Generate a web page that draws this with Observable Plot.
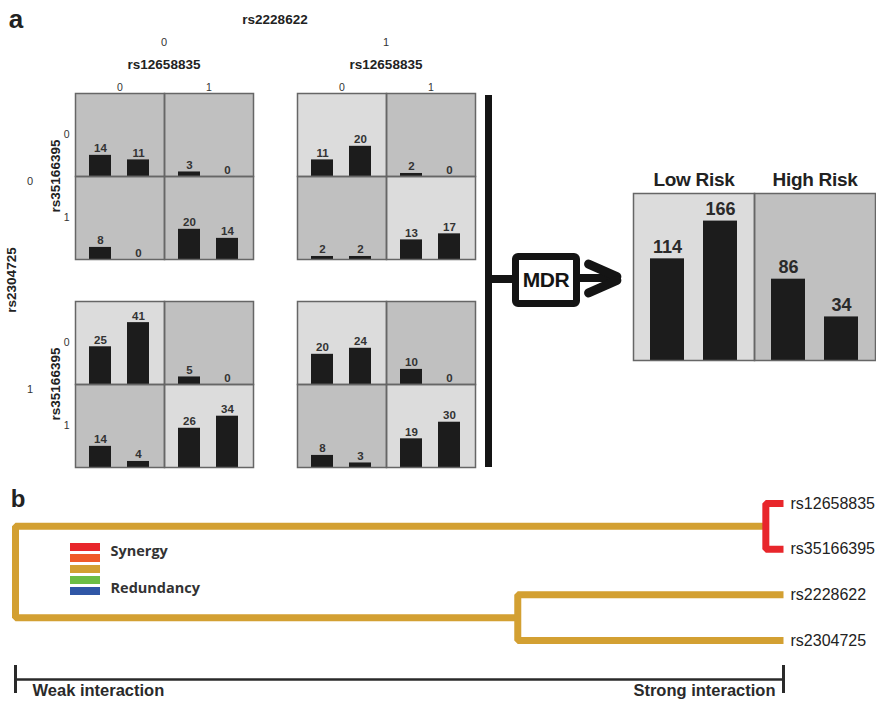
<!DOCTYPE html>
<html>
<head>
<meta charset="utf-8">
<script src="https://cdn.jsdelivr.net/npm/d3@7"></script>
<script src="https://cdn.jsdelivr.net/npm/@observablehq/plot@0.6"></script>
<style>
  body { margin: 0; background: #fff; }
  #fig { position: relative; width: 876px; height: 703px; overflow: hidden; background: #fff;
         font-family: "Liberation Sans", Arial, sans-serif; color: #222; }
  .lbl { position: absolute; transform: translate(-50%, -50%); white-space: nowrap; line-height: 1; }
  .rot { transform: translate(-50%, -50%) rotate(-90deg); }
  .bold { font-weight: bold; }
  .plot { position: absolute; }
  .plot svg { overflow: visible; }
  #summary g[aria-label^="fx-axis"] text { font-weight: bold; font-size: 19px; letter-spacing: -0.3px; fill: #222; }
  .deco { position: absolute; background: #141414; }
</style>
</head>
<body>
<div id="fig"></div>
<script>
// ---------------- data ----------------
const snpOuterCol = "rs2228622";
const snpOuterRow = "rs2304725";
const snpInnerCol = "rs12658835";
const snpInnerRow = "rs35166395";
const alleles = [0, 1];

// one entry per genotype cell (outer col, outer row, inner row, inner col)
const gRs2228622  = [0,0,0,0, 1,1,1,1, 0,0,0,0, 1,1,1,1];
const gRs2304725  = [0,0,0,0, 0,0,0,0, 1,1,1,1, 1,1,1,1];
const gRs35166395 = [0,0,1,1, 0,0,1,1, 0,0,1,1, 0,0,1,1];
const gRs12658835 = [0,1,0,1, 0,1,0,1, 0,1,0,1, 0,1,0,1];
const cases    = [14,3,8,20, 11,2,2,13, 25,5,14,26, 20,10,8,19];
const controls = [11,0,0,14, 20,0,2,17, 41,0,4,34, 24,0,3,30];
const cellRisk = ["High","High","High","High", "Low","High","High","Low",
                  "Low","High","High","Low",  "Low","High","High","Low"];

const riskGroups   = ["Low Risk", "High Risk"];
const riskKeys     = ["Low", "High"];
const riskCases    = [114, 86];
const riskControls = [166, 34];

const leaves = ["rs12658835", "rs35166395", "rs2228622", "rs2304725"];
const mergeLeft     = ["rs12658835", "rs2228622", "n0"];
const mergeRight    = ["rs35166395", "rs2304725", "n1"];
const mergeStrength = [0.977, 0.654, 0];
const mergeLevel    = [0, 2, 2];

const legendLevels = [0, 1, 2, 3, 4];
const legendLabels = ["Synergy", "Redundancy"];
const strengthTicks  = [0, 1];
const strengthLabels = ["Weak interaction", "Strong interaction"];

// ---------------- styles ----------------
const legendColors = ["#e8262b", "#f05a28", "#d3a032", "#6cbd45", "#2f56a6"];
const riskFill = ["#dcdcdc", "#c0c0c0"];
const barFill = "#1c1c1c";
const fontMain = "Liberation Sans, Arial, sans-serif";

const fig = document.getElementById("fig");
function place(node, left, top) {
  const d = document.createElement("div");
  d.className = "plot";
  d.style.left = left + "px"; d.style.top = top + "px";
  d.appendChild(node); fig.appendChild(d);
}
function label(text, x, y, size, cls = "", color = "#222") {
  const d = document.createElement("div");
  d.className = "lbl " + cls;
  d.textContent = text;
  d.style.left = x + "px"; d.style.top = y + "px";
  d.style.fontSize = size + "px"; d.style.color = color;
  fig.appendChild(d);
  return d;
}
function deco(left, top, w, h, extra = {}) {
  const d = document.createElement("div");
  d.className = "deco";
  Object.assign(d.style, {left: left + "px", top: top + "px", width: w + "px", height: h + "px"}, extra);
  fig.appendChild(d);
  return d;
}

// ---------------- panel a: 2x2 grid of 2x2 panels ----------------
const panelW = 178, panelH = 166, mTop = 16, mLeft = 22;
const panelX = [75, 297], panelY = [93, 301];

function drawPanel(oc, orow) {
  const idx = d3.range(cases.length).filter(i => gRs2228622[i] === oc && gRs2304725[i] === orow);
  const cells = idx.map(i => ({c: gRs12658835[i], r: gRs35166395[i], risk: cellRisk[i]}));
  const bars = idx.flatMap(i => [
    {c: gRs12658835[i], r: gRs35166395[i], status: "cases", n: cases[i]},
    {c: gRs12658835[i], r: gRs35166395[i], status: "controls", n: controls[i]}
  ]);
  const chart = Plot.plot({
    width: panelW + mLeft, height: panelH + mTop,
    marginTop: mTop, marginLeft: mLeft, marginRight: 0, marginBottom: 0,
    fx: {domain: alleles, padding: 0, axis: orow === 0 ? "top" : null, tickSize: 0, tickPadding: 3, label: null},
    fy: {domain: alleles, padding: 0, axis: oc === 0 ? "left" : null, tickSize: 0, tickPadding: 6, label: null},
    x: {type: "band", domain: ["cases", "controls"], paddingInner: 0.42, paddingOuter: 0.38, axis: null},
    y: {domain: [0, 55], axis: null},
    color: {domain: riskKeys, range: riskFill},
    style: {fontFamily: fontMain, fontSize: "10.5px", color: "#333", background: "transparent"},
    marks: [
      Plot.rect(cells, {fx: "c", fy: "r", fill: "risk"}),
      Plot.barY(bars, {fx: "c", fy: "r", x: "status", y: "n", fill: barFill}),
      Plot.text(bars, {fx: "c", fy: "r", x: "status", y: "n", text: d => String(d.n),
        dy: -3, lineAnchor: "bottom", fontWeight: "bold", fontSize: 11.5, fill: "#333"}),
      Plot.frame({stroke: "#666", strokeWidth: 1.5})
    ]
  });
  place(chart, panelX[oc] - mLeft, panelY[orow] - mTop);
}
alleles.forEach(oc => alleles.forEach(orow => drawPanel(oc, orow)));

// outer labels
label("a", 16, 19, 26, "bold");
label(snpOuterCol, (panelX[0] + panelX[1] + panelW) / 2, 20, 13.5, "bold");
alleles.forEach((a, i) => {
  label(String(a), panelX[i] + panelW / 2, 42, 11, "", "#333");
  label(snpInnerCol, panelX[i] + panelW / 2, 65, 13.5, "bold");
  label(String(a), 30, panelY[i] + panelH / 2 + 5, 11, "", "#333");
  label(snpInnerRow, 56, panelY[i] + panelH / 2, 13.5, "bold rot");
});
label(snpOuterRow, 12, (panelY[0] + panelY[1] + panelH) / 2, 13.5, "bold rot");

// MDR connector decorations
deco(485, 95, 7, 372);
deco(492, 275, 22, 8);
const box = deco(512, 253, 54, 40, {background: "#fff", border: "7px solid #141414", borderRadius: "6px",
  display: "flex", alignItems: "center", justifyContent: "center", fontWeight: "bold", fontSize: "21px",
  fontFamily: fontMain, color: "#141414", letterSpacing: "-0.5px"});
box.textContent = "MDR";
deco(578, 274, 38, 8);
deco(581, 273.5, 40, 9, {borderRadius: "4.5px", transformOrigin: "right center", transform: "rotate(24deg)"});
deco(581, 273.5, 40, 9, {borderRadius: "4.5px", transformOrigin: "right center", transform: "rotate(-24deg)"});

// summary panel
const summaryBaseline = -26;
const groups = riskGroups.map((g, i) => ({g, risk: riskKeys[i]}));
const sBars = riskGroups.flatMap((g, i) => [
  {g, status: "cases", n: riskCases[i]},
  {g, status: "controls", n: riskControls[i]}
]);
const summary = Plot.plot({
  width: 244, height: 194, marginTop: 26, marginLeft: 1, marginRight: 1, marginBottom: 1,
  fx: {domain: riskGroups, padding: 0, axis: "top", tickSize: 0, tickPadding: 8, label: null},
  x: {type: "band", domain: ["cases", "controls"], paddingInner: 0.355, paddingOuter: 0.31, axis: null},
  y: {domain: [summaryBaseline, 204], axis: null},
  color: {domain: riskKeys, range: riskFill},
  style: {fontFamily: fontMain, fontSize: "19px", color: "#222", background: "transparent"},
  marks: [
    Plot.rect(groups, {fx: "g", fill: "risk"}),
    Plot.barY(sBars, {fx: "g", x: "status", y1: summaryBaseline, y2: "n", fill: barFill}),
    Plot.text(sBars, {fx: "g", x: "status", y: "n", text: d => String(d.n), dy: -6, lineAnchor: "bottom",
      fontSize: 18, fontWeight: "bold", fill: "#2a2a2a", fontFamily: "Liberation Sans Narrow, Arial Narrow, Liberation Sans, sans-serif"}),
    Plot.frame({stroke: "#666", strokeWidth: 1.5})
  ]
});
const sWrap = document.createElement("div");
sWrap.id = "summary"; sWrap.className = "plot";
sWrap.style.left = "632px"; sWrap.style.top = "167px";
sWrap.appendChild(summary); fig.appendChild(sWrap);

// ---------------- panel b: interaction dendrogram ----------------
label("b", 18, 499, 24, "bold");

const pos = {};
leaves.forEach((l, i) => pos[l] = {x: 1, y: i});
mergeLeft.forEach((l, i) => {
  const a = pos[l], b = pos[mergeRight[i]];
  pos["n" + i] = {x: mergeStrength[i], y: (a.y + b.y) / 2};
});
const dendroPts = [];
for (let i = mergeLeft.length - 1; i >= 0; i--) {
  const a = pos[mergeLeft[i]], b = pos[mergeRight[i]], s = mergeStrength[i];
  const id = "n" + i, level = mergeLevel[i];
  dendroPts.push({id, level, x: a.x, y: a.y}, {id, level, x: s, y: a.y},
                 {id, level, x: s, y: b.y}, {id, level, x: b.x, y: b.y});
}
const leafData = leaves.map((l, i) => ({name: l, x: pos[l].x, y: pos[l].y}));

const dendro = Plot.plot({
  width: 876, height: 180, marginLeft: 15, marginRight: 93, marginTop: 23, marginBottom: 20,
  x: {domain: [0, 1], axis: null},
  y: {domain: [0, leaves.length - 1], reverse: true, axis: null},
  color: {type: "ordinal", domain: legendLevels, range: legendColors},
  style: {fontFamily: fontMain, background: "transparent"},
  marks: [
    Plot.line(dendroPts, {x: "x", y: "y", z: "id", stroke: "level", strokeWidth: 7,
      strokeLinejoin: "miter", strokeLinecap: "butt"}),
    Plot.text(leafData, {x: "x", y: "y", text: "name", textAnchor: "start", dx: 7, fontSize: 16, fill: "#222"})
  ]
});
place(dendro, 0, 480);

// interaction strength axis
const axis = Plot.plot({
  width: 876, height: 43, marginLeft: 15, marginRight: 93, marginTop: 5, marginBottom: 10,
  x: {domain: [0, 1], axis: null},
  y: {domain: [-1, 1], axis: null},
  style: {fontFamily: fontMain, background: "transparent"},
  marks: [
    Plot.ruleY([0], {stroke: "#2a2a2a", strokeWidth: 2.5}),
    Plot.ruleX(strengthTicks, {stroke: "#2a2a2a", strokeWidth: 3}),
    Plot.text(strengthLabels.slice(0, 1), {x: () => strengthTicks[0], frameAnchor: "bottom", textAnchor: "start",
      dx: 17, dy: 2, fontWeight: "bold", fontSize: 16.5, fill: "#2a2a2a"}),
    Plot.text(strengthLabels.slice(1), {x: () => strengthTicks[1], frameAnchor: "bottom", textAnchor: "end",
      dx: -8, dy: 2, fontWeight: "bold", fontSize: 16.5, fill: "#2a2a2a"})
  ]
});
place(axis, 0, 660);

// legend
const legend = Plot.plot({
  width: 200, height: 55, marginLeft: 0, marginRight: 170, marginTop: 0, marginBottom: 0,
  x: {domain: [0, 1], axis: null},
  y: {type: "band", domain: legendLevels, paddingInner: 0.29, paddingOuter: 0.09, axis: null},
  color: {type: "ordinal", domain: legendLevels, range: legendColors},
  style: {fontFamily: "Open Sans, sans-serif", background: "transparent"},
  marks: [
    Plot.barX(legendLevels, {x1: 0, x2: 1, y: d => d, fill: d => d}),
    Plot.text(legendLabels.slice(0, 1), {x: 1, y: () => legendLevels[0], dx: 10, dy: 4, textAnchor: "start",
      fontSize: 14.5, fontWeight: 700, fill: "#333"}),
    Plot.text(legendLabels.slice(1), {x: 1, y: () => legendLevels[legendLevels.length - 1], dx: 10, dy: -3,
      textAnchor: "start", fontSize: 14.5, fontWeight: 700, fill: "#333"})
  ]
});
place(legend, 70, 541);
</script>
</body>
</html>
